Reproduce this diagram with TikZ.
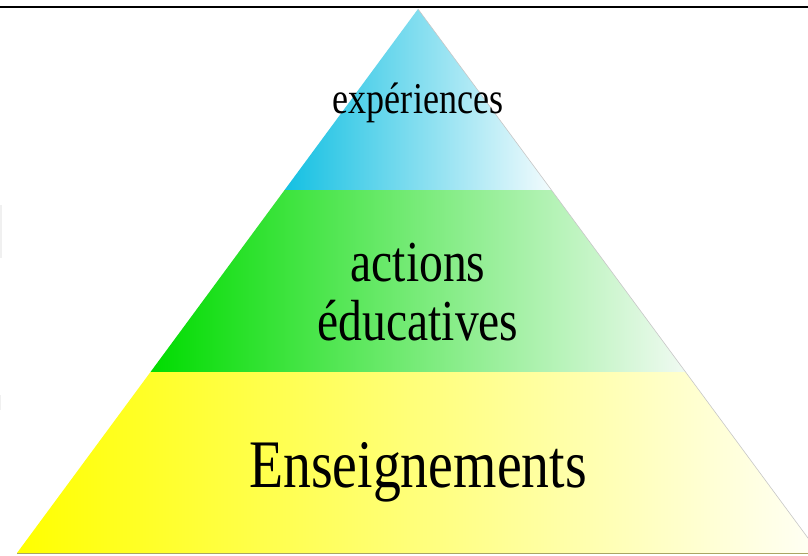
\documentclass[tikz,border=0pt]{standalone}
\usepackage{fontspec}
\setmainfont{Liberation Serif}
\definecolor{bluedeep}{RGB}{20,192,226}
\definecolor{bluemid}{RGB}{140,220,236}
\definecolor{bluelight}{RGB}{242,251,253}
\definecolor{greendeep}{RGB}{0,220,0}
\definecolor{greenmid}{RGB}{150,236,150}
\definecolor{greenlight}{RGB}{240,250,242}
\definecolor{yellowdeep}{RGB}{255,255,0}
\definecolor{yellowmid}{RGB}{255,252,140}
\definecolor{yellowlight}{RGB}{255,255,246}
\tikzset{
  label/.style={anchor=base, inner sep=0pt, text=black},
  edge/.style={draw=black!22, line width=0.6pt},
}
\begin{document}
\begin{tikzpicture}[x=1pt,y=-1pt]
\useasboundingbox (0,0) rectangle (808,555);
\fill[white] (0,0) rectangle (808,555);
\begin{scope}
\clip (0,0) rectangle (808,555);
% bands
\shade[left color=bluedeep, middle color=bluemid, right color=bluelight]
  (418,9) -- (551.4,190) -- (284.6,190) -- cycle;
\shade[left color=greendeep, middle color=greenmid, right color=greenlight]
  (284.6,190) -- (551.4,190) -- (685.5,372) -- (150.5,372) -- cycle;
\shade[left color=yellowdeep, middle color=yellowmid, right color=yellowlight]
  (150.5,372) -- (685.5,372) -- (819,553) -- (17,553) -- cycle;
\draw[edge] (418,9) -- (819,553);
\draw[black!30!yellow!60!gray, line width=0.9pt] (17,553.3) -- (808,553.3);
% faint marks at left edge
\fill[black!6] (0,205) rectangle (1.6,258);
\fill[black!6] (0,395) rectangle (1.4,410);
\end{scope}
% top rule
\draw[black, line width=2pt] (0,7) -- (808,7);
% texts
\node[label, font=\fontsize{44}{44}\selectfont] (t1) at (418,113) {\scalebox{0.82}[1]{expériences}};
\node[label, font=\fontsize{58}{58}\selectfont] (t2) at (418,281) {\scalebox{0.82}[1]{actions}};
\node[label, font=\fontsize{58}{58}\selectfont] (t3) at (418,340) {\scalebox{0.82}[1]{éducatives}};
\node[label, font=\fontsize{68}{68}\selectfont] (t4) at (418,487) {\scalebox{0.82}[1]{Enseignements}};
\end{tikzpicture}
\end{document}
